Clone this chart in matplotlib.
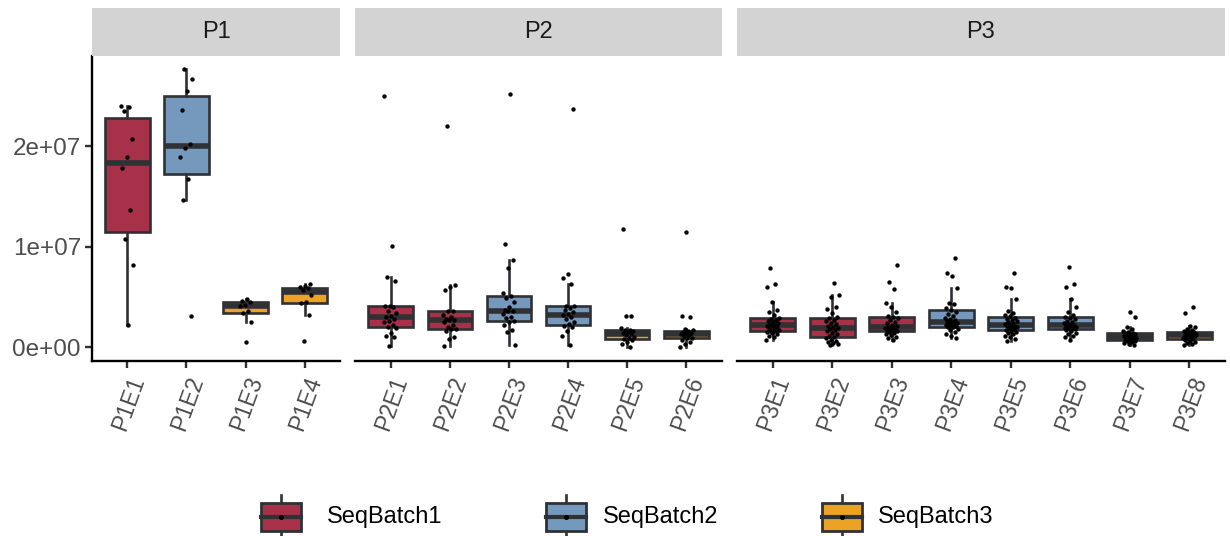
import numpy as np
import matplotlib.pyplot as plt
from matplotlib.patches import Rectangle

plt.rcParams['font.family'] = ['Liberation Sans', 'DejaVu Sans']

# read counts per sample, in millions
p1e1 = [24.0, 23.9, 23.5, 20.7, 18.9, 17.8, 13.6, 10.8, 8.2, 2.2]
p1e2 = [27.7, 26.7, 25.5, 23.55, 20.2, 19.8, 18.9, 16.7, 14.65, 3.05]
p1e3 = [4.75, 4.6, 4.5, 4.2, 4.05, 3.6, 3.4, 2.45, 0.47]
p1e4 = [6.25, 6.05, 5.95, 5.85, 5.7, 5.2, 4.45, 4.35, 3.18, 0.63]

p2e1 = [25.0, 10.1, 6.93, 6.6, 4.1, 4.05, 4.0, 3.6, 3.35, 3.1, 2.95,
        2.8, 2.6, 2.45, 2.2, 2.0, 1.85, 1.4, 1.05, 1.0, 0.1]
p2e2 = [22.0, 6.15, 5.95, 5.7, 3.6, 3.55, 3.2, 2.95, 2.8, 2.7, 2.65,
        2.45, 2.2, 2.0, 1.8, 1.75, 1.6, 0.95, 0.8, 0.07]
p2e3 = [25.2, 10.25, 8.66, 7.83, 5.35, 5.05, 4.85, 4.5, 3.95, 3.7, 3.6,
        3.55, 3.3, 3.0, 2.85, 2.6, 2.5, 2.2, 1.7, 1.45, 0.2]
p2e4 = [23.7, 7.25, 6.83, 6.3, 4.1, 4.05, 3.9, 3.7, 3.5, 3.25, 3.15,
        2.95, 2.75, 2.5, 2.3, 2.05, 1.95, 1.6, 1.1, 0.2]
p2e5 = [11.7, 3.1, 3.05, 1.9, 1.7, 1.65, 1.55, 1.45, 1.35, 1.25, 1.15,
        1.0, 0.9, 0.8, 0.7, 0.5, 0.3, 0.05]
p2e6 = [11.5, 3.05, 2.95, 1.8, 1.65, 1.6, 1.5, 1.4, 1.35, 1.25, 1.15,
        1.05, 0.9, 0.85, 0.7, 0.55, 0.35, 0.05]

p3e1 = [0.7, 0.95, 1.1, 1.25, 1.35, 1.45, 1.55, 1.6, 1.7, 1.8, 1.9, 2.0,
        2.05, 2.1, 2.15, 2.25, 2.35, 2.45, 2.55, 2.65, 2.8, 2.9, 3.2,
        3.45, 3.7, 4.5, 5.95, 6.25, 7.85]
p3e2 = [0.25, 0.35, 0.45, 0.55, 0.65, 0.75, 0.85, 0.95, 1.1, 1.25, 1.4,
        1.55, 1.7, 1.8, 1.9, 2.0, 2.1, 2.25, 2.4, 2.55, 2.7, 2.85, 2.95,
        3.35, 3.75, 3.95, 5.0, 5.15, 6.35]
p3e3 = [0.7, 0.85, 1.0, 1.15, 1.3, 1.4, 1.45, 1.55, 1.65, 1.7, 1.8, 1.85,
        1.9, 1.95, 2.0, 2.1, 2.2, 2.35, 2.5, 2.65, 2.9, 3.0, 3.1, 3.5,
        3.95, 4.4, 5.75, 6.5, 8.15]
p3e4 = [0.85, 1.1, 1.3, 1.5, 1.65, 1.8, 1.95, 2.0, 2.05, 2.15, 2.2, 2.3,
        2.35, 2.4, 2.45, 2.55, 2.65, 2.75, 2.9, 3.05, 3.25, 3.5, 3.7,
        3.85, 4.3, 4.35, 5.85, 7.1, 7.35, 8.9]
p3e5 = [0.65, 0.8, 0.95, 1.1, 1.25, 1.4, 1.5, 1.6, 1.7, 1.8, 1.9, 1.95,
        2.0, 2.05, 2.1, 2.15, 2.25, 2.35, 2.45, 2.55, 2.65, 2.75, 2.85,
        3.05, 3.2, 3.4, 3.6, 4.8, 5.9, 5.95, 7.4]
p3e6 = [0.75, 0.95, 1.1, 1.25, 1.4, 1.55, 1.65, 1.75, 1.8, 1.85, 1.9,
        1.95, 2.0, 2.05, 2.1, 2.2, 2.3, 2.4, 2.5, 2.6, 2.75, 2.9, 3.0,
        3.2, 3.5, 3.95, 4.75, 6.0, 6.25, 8.0]
p3e7 = [0.25, 0.35, 0.45, 0.55, 0.6, 0.65, 0.7, 0.75, 0.8, 0.85, 0.9,
        0.95, 1.0, 1.0, 1.05, 1.1, 1.15, 1.2, 1.25, 1.3, 1.35, 1.4, 1.5,
        1.6, 1.75, 1.95, 3.0, 3.5]
p3e8 = [0.2, 0.35, 0.45, 0.55, 0.65, 0.75, 0.8, 0.85, 0.9, 0.95, 1.0,
        1.05, 1.1, 1.15, 1.2, 1.25, 1.3, 1.35, 1.4, 1.45, 1.5, 1.55, 1.65,
        1.75, 1.95, 2.1, 3.4, 3.95]

panels = ['P1', 'P2', 'P3']
samples = [['P1E1', 'P1E2', 'P1E3', 'P1E4'],
           ['P2E1', 'P2E2', 'P2E3', 'P2E4', 'P2E5', 'P2E6'],
           ['P3E1', 'P3E2', 'P3E3', 'P3E4', 'P3E5', 'P3E6', 'P3E7', 'P3E8']]
values = [[p1e1, p1e2, p1e3, p1e4],
          [p2e1, p2e2, p2e3, p2e4, p2e5, p2e6],
          [p3e1, p3e2, p3e3, p3e4, p3e5, p3e6, p3e7, p3e8]]
batch = [[1, 2, 3, 3],
         [1, 1, 2, 2, 3, 3],
         [1, 1, 1, 2, 2, 2, 3, 3]]
batch_names = ['SeqBatch1', 'SeqBatch2', 'SeqBatch3']
batch_cols = {1: '#A8314A', 2: '#7598BD', 3: '#EBA326'}

edge = '#2F3134'
W, H = 1230, 536
fig = plt.figure(figsize=(W / 100, H / 100), dpi=100)

# panel extents in pixels (left, right)
px = [(92, 340), (355, 722), (737, 1225)]
top_px, bot_px, strip_top = 55.7, 360.7, 8

for k, (x0, x1) in enumerate(px):
    ax = fig.add_axes([x0 / W, 1 - bot_px / H, (x1 - x0) / W, (bot_px - top_px) / H])
    n = len(samples[k])
    pos = np.arange(1, n + 1)
    data = [np.array(v) * 1e6 for v in values[k]]
    # every point is drawn by the jitter layer, so boxplot fliers stay hidden
    bp = ax.boxplot(data, positions=pos, widths=0.75, patch_artist=True,
                    showcaps=False, showfliers=False, whis=1.5,
                    boxprops=dict(edgecolor=edge, linewidth=1.9),
                    medianprops=dict(color=edge, linewidth=4.0),
                    whiskerprops=dict(color=edge, linewidth=1.9))
    for patch, b in zip(bp['boxes'], batch[k]):
        patch.set_facecolor(batch_cols[b])
    for i, d in enumerate(data):
        idx = np.arange(len(d))
        off = ((idx * 0.618034 + 0.3 * i) % 1 - 0.5) * 0.22
        ax.scatter(pos[i] + off, d, s=10, color='black', linewidths=0, zorder=4)

    ax.set_xlim(0.4, n + 0.6)
    ax.set_ylim(-1.36e6, 29.0e6)
    ax.set_xticks(pos)
    ax.set_xticklabels(samples[k], rotation=70, ha='right', va='top',
                       rotation_mode='anchor', fontsize=16.5, color='#4D4D4D')
    for s in ['top', 'right']:
        ax.spines[s].set_visible(False)
    ax.spines['bottom'].set_linewidth(1.7)
    ax.spines['bottom'].set_color('black')
    ax.tick_params(axis='x', length=5, width=1.7, color=edge, pad=4)
    if k == 0:
        ax.spines['left'].set_linewidth(1.7)
        ax.spines['left'].set_color('black')
        ax.set_yticks([0, 1e7, 2e7])
        ax.set_yticklabels(['0e+00', '1e+07', '2e+07'], fontsize=17.5, color='#4D4D4D')
        ax.tick_params(axis='y', length=5, width=1.7, color=edge, pad=3)
    else:
        ax.spines['left'].set_visible(False)
        ax.set_yticks([])

    # facet strip
    sax = fig.add_axes([x0 / W, 1 - top_px / H, (x1 - x0) / W, (top_px - strip_top) / H])
    sax.set_facecolor('#D3D3D3')
    sax.set_xticks([])
    sax.set_yticks([])
    for s in sax.spines.values():
        s.set_visible(False)
    sax.text(0.5, 0.5, panels[k], ha='center', va='center', fontsize=17,
             color='#1A1A1A', transform=sax.transAxes)

# legend drawn in pixel coordinates
lax = fig.add_axes([0, 0, 1, 90 / H])
lax.set_xlim(0, W)
lax.set_ylim(H, H - 90)
lax.axis('off')
key_x = [281, 566, 842]
text_x = [327, 603, 878]
yc = 517
for i, name in enumerate(batch_names):
    cx = key_x[i]
    lax.plot([cx, cx], [yc - 22, yc + 22], color=edge, lw=1.9, zorder=1)
    lax.add_patch(Rectangle((cx - 20, yc - 14), 40, 28, facecolor=batch_cols[i + 1],
                            edgecolor=edge, lw=2.0, zorder=2))
    lax.plot([cx - 20, cx + 20], [yc, yc], color=edge, lw=3.0, zorder=3)
    lax.scatter([cx], [yc], s=7, color='black', zorder=4)
    lax.text(text_x[i], yc, name, ha='left', va='center', fontsize=17, color='black')

fig.savefig('out.png', dpi=100)
